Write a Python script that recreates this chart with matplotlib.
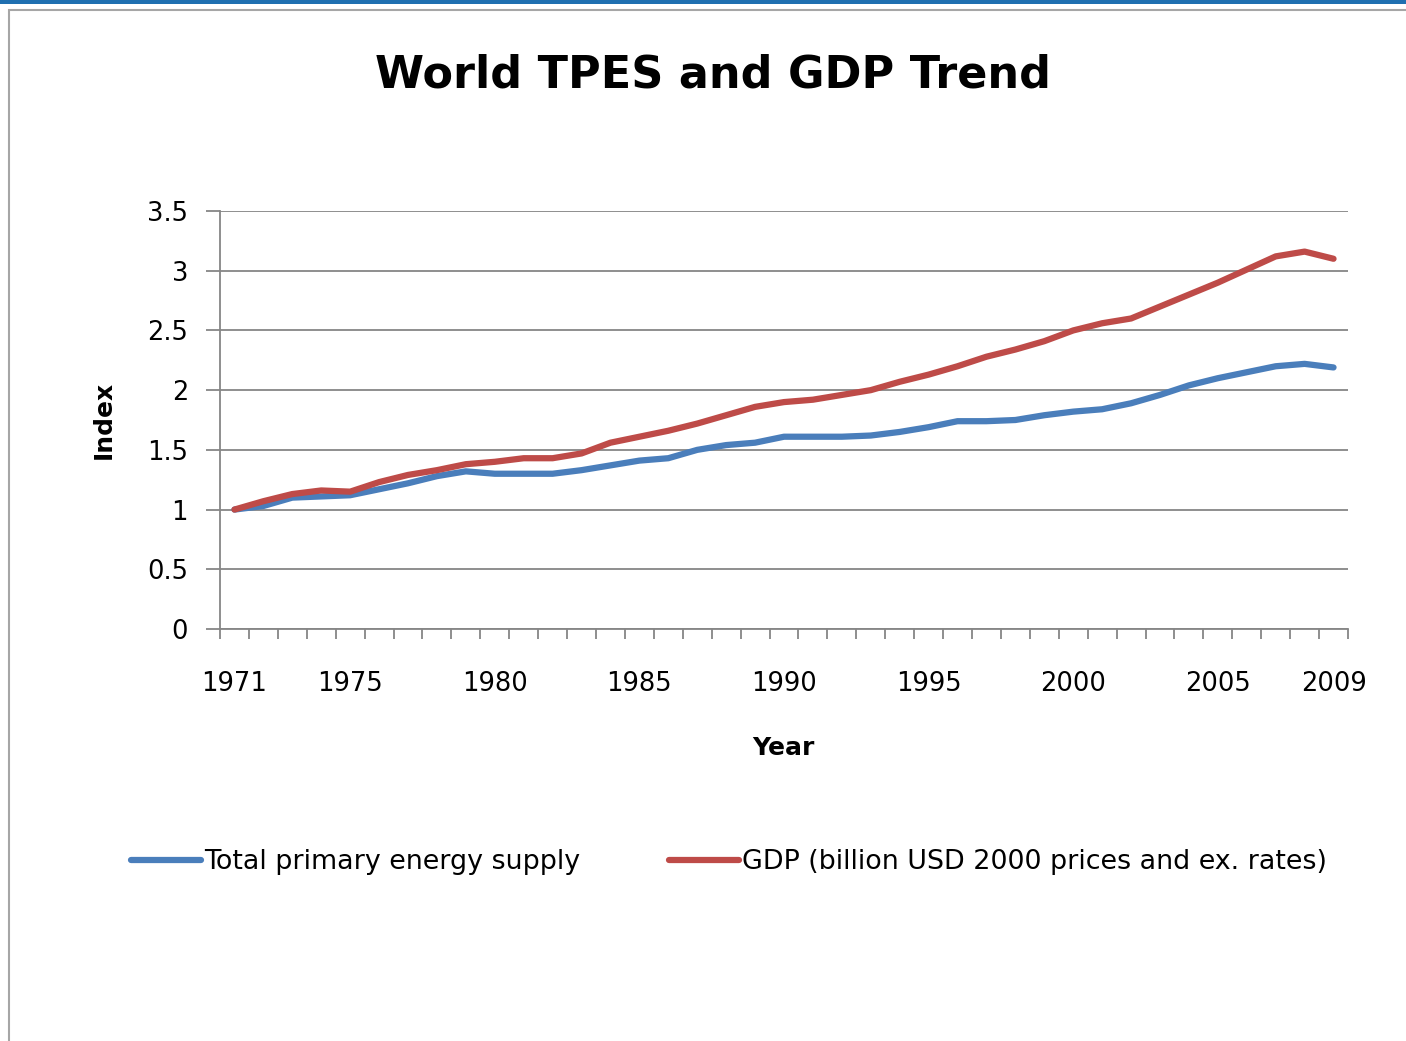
import numpy as np
import matplotlib
matplotlib.use('Agg')
import matplotlib.pyplot as plt
from matplotlib.patches import Rectangle

years = list(range(1971, 2010))
tpes = [1.00, 1.03, 1.10, 1.11, 1.12, 1.17, 1.22, 1.28, 1.32, 1.30,
        1.30, 1.30, 1.33, 1.37, 1.41, 1.43, 1.50, 1.54, 1.56, 1.61,
        1.61, 1.61, 1.62, 1.65, 1.69, 1.74, 1.74, 1.75, 1.79, 1.82,
        1.84, 1.89, 1.96, 2.04, 2.10, 2.15, 2.20, 2.22, 2.19]
gdp = [1.00, 1.07, 1.13, 1.16, 1.15, 1.23, 1.29, 1.33, 1.38, 1.40,
       1.43, 1.43, 1.47, 1.56, 1.61, 1.66, 1.72, 1.79, 1.86, 1.90,
       1.92, 1.96, 2.00, 2.07, 2.13, 2.20, 2.28, 2.34, 2.41, 2.50,
       2.56, 2.60, 2.70, 2.80, 2.90, 3.01, 3.12, 3.16, 3.10]
label_years = [1971, 1975, 1980, 1985, 1990, 1995, 2000, 2005, 2009]
y_ticks = [0, 0.5, 1, 1.5, 2, 2.5, 3, 3.5]

W, H = 1406, 1041
fig = plt.figure(figsize=(W / 100, H / 100), dpi=100)
plt.rcParams['font.family'] = ['DejaVu Sans']

# screenshot frame
fig.patches.append(Rectangle((0, 1 - 4 / H), 1, 4 / H, transform=fig.transFigure,
                             facecolor='#1f6fb0', edgecolor='none', zorder=-2))
fig.patches.append(Rectangle((9 / W, -0.01), 1.0, 1 - 10 / H + 0.01, transform=fig.transFigure,
                             facecolor='white', edgecolor='#a6a6a6', linewidth=1.5, zorder=-2))

ax = fig.add_axes([220 / W, 1 - 629 / H, 1128 / W, 418 / H])
ax.patch.set_alpha(0)
x = np.arange(len(years))
ax.plot(x, tpes, color='#4A7EBB', linewidth=4.5, solid_capstyle='round',
        label='Total primary energy supply')
ax.plot(x, gdp, color='#BE4B48', linewidth=4.5, solid_capstyle='round',
        label='GDP (billion USD 2000 prices and ex. rates)')

ax.set_xlim(-0.5, len(years) - 0.5)
ax.set_ylim(0, 3.5)
ax.set_yticks(y_ticks)
ax.set_yticklabels(['0', '0.5', '1', '1.5', '2', '2.5', '3', '3.5'])
ax.grid(axis='y', color='#868686', linewidth=1.3)
ax.set_axisbelow(True)

ax.set_xticks([years.index(y) for y in label_years])
ax.set_xticklabels([str(y) for y in label_years])
ax.set_xticks(np.arange(-0.5, len(years)), minor=True)
ax.tick_params(axis='x', which='major', length=0, pad=30, labelsize=18.5)
ax.tick_params(axis='x', which='minor', length=7, width=1.3, color='#868686', direction='out')
ax.tick_params(axis='y', length=10, width=1.3, color='#868686', pad=13, labelsize=18.5)

for s in ['top', 'right']:
    ax.spines[s].set_visible(False)
for s in ['left', 'bottom']:
    ax.spines[s].set_color('#868686')
    ax.spines[s].set_linewidth(1.3)

fig.text(713 / W, 1 - 75 / H, 'World TPES and GDP Trend', ha='center', va='center',
         fontsize=32, fontweight='bold')
fig.text(104 / W, 1 - 420 / H, 'Index', ha='center', va='center', rotation=90,
         fontsize=18, fontweight='bold')
fig.text(783 / W, 1 - 748 / H, 'Year', ha='center', va='center',
         fontsize=18, fontweight='bold')

fig.legend(loc='center', bbox_to_anchor=(729 / W, 1 - 862 / H), ncol=2, frameon=False,
           fontsize=19.4, handlelength=2.6, handletextpad=0.1, columnspacing=3.3)

fig.savefig('out.png', dpi=100)
